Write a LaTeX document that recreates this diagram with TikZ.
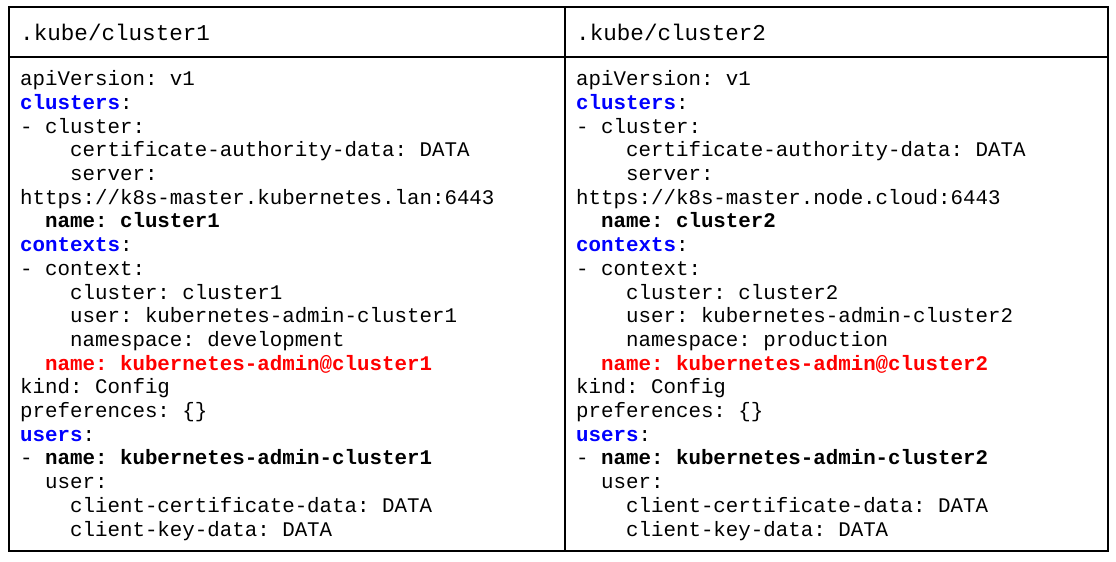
\documentclass[tikz,border=0pt]{standalone}
\usepackage{fontspec}
\setmonofont{Liberation Mono}
\usetikzlibrary{positioning}
\definecolor{keyblue}{RGB}{0,0,255}
\definecolor{namered}{RGB}{255,0,0}
\newcommand\ind[1]{\phantom{#1}}
\newcommand\key[1]{\textcolor{keyblue}{\textbf{#1}}:}
\newcommand\ctx[1]{\textcolor{namered}{\textbf{#1}}}
\tikzset{
  code/.style={anchor=base west, inner sep=0pt, align=left,
    font=\ttfamily\fontsize{20.8}{23.7}\selectfont},
  title/.style={anchor=base west, inner sep=0pt,
    font=\ttfamily\fontsize{22.6}{26}\selectfont},
  frame/.style={line width=2.6pt}
}
\begin{document}
\begin{tikzpicture}[x=1pt, y=-1pt]
\useasboundingbox (0,0) rectangle (1116,562);
\draw[frame] (9,7) rectangle (1108,551);
\draw[frame] (9,57) -- (1108,57);
\draw[frame] (565,7) -- (565,551);
\node[title] (head1) at (20,40) {.kube/cluster1};
\node[title] (head2) at (576,40) {.kube/cluster2};
\node[code] (body1) at (20,536) {apiVersion: v1\\
\key{clusters}\\
- cluster:\\
\ind{xxxx}certificate-authority-data: DATA\\
\ind{xxxx}server:\\
https://k8s-master.kubernetes.lan:6443\\
\ind{xx}\textbf{name: cluster1}\\
\key{contexts}\\
- context:\\
\ind{xxxx}cluster: cluster1\\
\ind{xxxx}user: kubernetes-admin-cluster1\\
\ind{xxxx}namespace: development\\
\ind{xx}\ctx{name: kubernetes-admin@cluster1}\\
kind: Config\\
preferences: \{\}\\
\key{users}\\
- \textbf{name: kubernetes-admin-cluster1}\\
\ind{xx}user:\\
\ind{xxxx}client-certificate-data: DATA\\
\ind{xxxx}client-key-data: DATA};
\node[code] (body2) at (576,536) {apiVersion: v1\\
\key{clusters}\\
- cluster:\\
\ind{xxxx}certificate-authority-data: DATA\\
\ind{xxxx}server:\\
https://k8s-master.node.cloud:6443\\
\ind{xx}\textbf{name: cluster2}\\
\key{contexts}\\
- context:\\
\ind{xxxx}cluster: cluster2\\
\ind{xxxx}user: kubernetes-admin-cluster2\\
\ind{xxxx}namespace: production\\
\ind{xx}\ctx{name: kubernetes-admin@cluster2}\\
kind: Config\\
preferences: \{\}\\
\key{users}\\
- \textbf{name: kubernetes-admin-cluster2}\\
\ind{xx}user:\\
\ind{xxxx}client-certificate-data: DATA\\
\ind{xxxx}client-key-data: DATA};
\end{tikzpicture}
\end{document}
